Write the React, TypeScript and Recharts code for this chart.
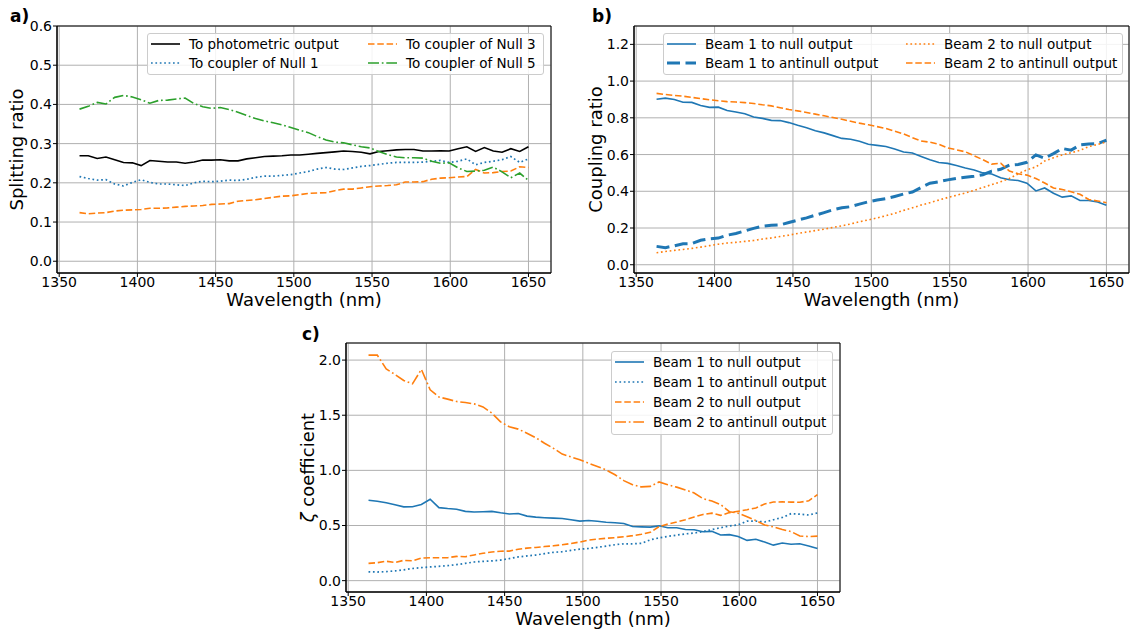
import { CartesianGrid, Legend, Line, LineChart, ReferenceArea, XAxis, YAxis } from "recharts";

// wavelength samples (nm)
const wavelengths = [
  1363.0, 1368.6, 1374.3, 1379.9, 1385.5, 1391.1, 1396.8, 1402.4, 1408.0, 1413.6,
  1419.3, 1424.9, 1430.5, 1436.2, 1441.8, 1447.4, 1453.0, 1458.7, 1464.3, 1469.9,
  1475.5, 1481.2, 1486.8, 1492.4, 1498.1, 1503.7, 1509.3, 1514.9, 1520.6, 1526.2,
  1531.8, 1537.4, 1543.1, 1548.7, 1554.3, 1560.0, 1565.6, 1571.2, 1576.8, 1582.5,
  1588.1, 1593.7, 1599.3, 1605.0, 1610.6, 1616.2, 1621.8, 1627.5, 1633.1, 1638.7,
  1644.4, 1650.0
];

// a) splitting ratio
const toPhotometric = [
  0.269, 0.269, 0.262, 0.266, 0.259, 0.252, 0.251, 0.244, 0.257, 0.255,
  0.253, 0.253, 0.250, 0.253, 0.258, 0.258, 0.259, 0.256, 0.256, 0.261,
  0.264, 0.267, 0.268, 0.269, 0.271, 0.271, 0.273, 0.275, 0.277, 0.279,
  0.281, 0.280, 0.278, 0.274, 0.280, 0.282, 0.284, 0.285, 0.285, 0.281,
  0.281, 0.282, 0.281, 0.287, 0.292, 0.280, 0.290, 0.281, 0.278, 0.287,
  0.280, 0.292
];
const toNull1 = [
  0.216, 0.211, 0.207, 0.208, 0.197, 0.192, 0.201, 0.208, 0.201, 0.197,
  0.197, 0.195, 0.193, 0.200, 0.204, 0.203, 0.204, 0.207, 0.206, 0.209,
  0.214, 0.217, 0.217, 0.219, 0.221, 0.225, 0.229, 0.235, 0.239, 0.235,
  0.234, 0.238, 0.242, 0.244, 0.247, 0.250, 0.252, 0.252, 0.252, 0.253,
  0.255, 0.257, 0.252, 0.255, 0.261, 0.246, 0.252, 0.255, 0.259, 0.267,
  0.252, 0.261
];
const toNull3 = [
  0.124, 0.121, 0.123, 0.124, 0.128, 0.130, 0.131, 0.132, 0.135, 0.135,
  0.136, 0.138, 0.140, 0.141, 0.142, 0.145, 0.146, 0.147, 0.153, 0.155,
  0.157, 0.160, 0.163, 0.166, 0.167, 0.170, 0.173, 0.174, 0.175, 0.180,
  0.184, 0.184, 0.187, 0.190, 0.192, 0.193, 0.195, 0.202, 0.202, 0.203,
  0.209, 0.212, 0.213, 0.215, 0.216, 0.234, 0.225, 0.226, 0.229, 0.230,
  0.241, 0.239
];
const toNull5 = [
  0.388, 0.395, 0.405, 0.401, 0.418, 0.423, 0.419, 0.412, 0.403, 0.410,
  0.411, 0.414, 0.416, 0.402, 0.394, 0.390, 0.392, 0.387, 0.380, 0.372,
  0.364, 0.358, 0.353, 0.348, 0.341, 0.334, 0.328, 0.318, 0.309, 0.304,
  0.302, 0.297, 0.292, 0.289, 0.280, 0.272, 0.266, 0.264, 0.264, 0.263,
  0.255, 0.250, 0.251, 0.238, 0.229, 0.230, 0.232, 0.240, 0.228, 0.213,
  0.225, 0.206
];

// b) coupling ratio
const b1Null = [
  0.901, 0.907, 0.900, 0.885, 0.884, 0.867, 0.857, 0.858, 0.840, 0.832,
  0.822, 0.804, 0.797, 0.786, 0.785, 0.774, 0.759, 0.746, 0.730, 0.718,
  0.703, 0.688, 0.683, 0.672, 0.656, 0.650, 0.644, 0.630, 0.614, 0.608,
  0.590, 0.572, 0.557, 0.552, 0.540, 0.527, 0.516, 0.500, 0.494, 0.474,
  0.463, 0.459, 0.444, 0.402, 0.418, 0.389, 0.368, 0.375, 0.350, 0.350,
  0.342, 0.324
];
const b1Antinull = [
  0.100, 0.093, 0.103, 0.114, 0.115, 0.133, 0.141, 0.145, 0.161, 0.170,
  0.184, 0.198, 0.210, 0.215, 0.217, 0.230, 0.243, 0.255, 0.270, 0.284,
  0.299, 0.310, 0.316, 0.330, 0.343, 0.352, 0.360, 0.372, 0.385, 0.396,
  0.421, 0.444, 0.452, 0.462, 0.470, 0.476, 0.482, 0.490, 0.510, 0.520,
  0.542, 0.546, 0.558, 0.598, 0.580, 0.605, 0.633, 0.624, 0.652, 0.657,
  0.660, 0.678
];
const b2Null = [
  0.065, 0.072, 0.078, 0.083, 0.089, 0.096, 0.104, 0.112, 0.118, 0.122,
  0.127, 0.132, 0.140, 0.146, 0.154, 0.161, 0.170, 0.178, 0.186, 0.194,
  0.203, 0.212, 0.222, 0.234, 0.244, 0.255, 0.267, 0.280, 0.296, 0.310,
  0.325, 0.338, 0.352, 0.366, 0.378, 0.391, 0.405, 0.421, 0.436, 0.452,
  0.470, 0.495, 0.517, 0.533, 0.565, 0.582, 0.598, 0.610, 0.623, 0.643,
  0.655, 0.669
];
const b2Antinull = [
  0.933, 0.927, 0.922, 0.918, 0.911, 0.905, 0.898, 0.893, 0.888, 0.886,
  0.883, 0.878, 0.871, 0.865, 0.855, 0.845, 0.838, 0.829, 0.820, 0.811,
  0.802, 0.792, 0.781, 0.771, 0.762, 0.752, 0.742, 0.727, 0.712, 0.692,
  0.674, 0.667, 0.656, 0.636, 0.626, 0.615, 0.593, 0.572, 0.548, 0.553,
  0.510, 0.495, 0.488, 0.470, 0.445, 0.418, 0.410, 0.397, 0.384, 0.355,
  0.347, 0.338
];

// c) zeta coefficient
const z1Null = [
  0.729, 0.720, 0.706, 0.688, 0.669, 0.670, 0.690, 0.738, 0.662, 0.654,
  0.648, 0.628, 0.623, 0.625, 0.628, 0.615, 0.605, 0.609, 0.585, 0.576,
  0.571, 0.567, 0.563, 0.552, 0.540, 0.545, 0.538, 0.530, 0.525, 0.518,
  0.491, 0.488, 0.485, 0.497, 0.479, 0.479, 0.464, 0.462, 0.443, 0.447,
  0.414, 0.417, 0.400, 0.365, 0.375, 0.350, 0.322, 0.341, 0.330, 0.334,
  0.315, 0.292
];
const z1Antinull = [
  0.080, 0.078, 0.082, 0.088, 0.098, 0.110, 0.118, 0.124, 0.130, 0.136,
  0.145, 0.157, 0.169, 0.175, 0.179, 0.186, 0.200, 0.215, 0.224, 0.232,
  0.245, 0.257, 0.262, 0.275, 0.285, 0.292, 0.302, 0.313, 0.326, 0.334,
  0.334, 0.338, 0.370, 0.388, 0.401, 0.413, 0.424, 0.432, 0.445, 0.463,
  0.480, 0.496, 0.506, 0.540, 0.540, 0.532, 0.552, 0.573, 0.607, 0.603,
  0.595, 0.614
];
const z2Null = [
  0.157, 0.163, 0.176, 0.165, 0.184, 0.180, 0.204, 0.207, 0.208, 0.208,
  0.220, 0.217, 0.233, 0.248, 0.260, 0.267, 0.268, 0.285, 0.295, 0.301,
  0.309, 0.316, 0.325, 0.337, 0.350, 0.368, 0.377, 0.384, 0.390, 0.398,
  0.408, 0.420, 0.438, 0.490, 0.513, 0.532, 0.553, 0.578, 0.600, 0.612,
  0.592, 0.617, 0.629, 0.643, 0.659, 0.695, 0.713, 0.714, 0.712, 0.711,
  0.724, 0.780
];
const z2Antinull = [
  2.045, 2.045, 1.920, 1.870, 1.815, 1.785, 1.916, 1.730, 1.665, 1.646,
  1.624, 1.615, 1.603, 1.575, 1.520, 1.440, 1.395, 1.374, 1.337, 1.296,
  1.246, 1.200, 1.148, 1.122, 1.096, 1.065, 1.035, 1.004, 0.960, 0.907,
  0.870, 0.850, 0.855, 0.895, 0.870, 0.848, 0.823, 0.795, 0.744, 0.722,
  0.690, 0.625, 0.612, 0.580, 0.545, 0.505, 0.487, 0.463, 0.445, 0.405,
  0.400, 0.404
];

const xTicks = [1350, 1400, 1450, 1500, 1550, 1600, 1650];
const ticksA = [0, 0.1, 0.2, 0.3, 0.4, 0.5, 0.6];
const ticksB = [0, 0.2, 0.4, 0.6, 0.8, 1.0, 1.2];
const ticksC = [0, 0.5, 1.0, 1.5, 2.0];

const BLUE = "#1f77b4";
const ORANGE = "#ff7f0e";
const GREEN = "#2ca02c";
const DASHED = "6.5 2.8";
const DOTTED = "1.7 2.7";
const DASHDOT = "11 2.8 1.7 2.8";
const THICK_DASHED = "13 5.5";
const X_DOMAIN: [number, number] = [1348.6, 1664.4];

interface Series {
  key: string;
  label: string;
  color: string;
  dash?: string;
  width: number;
  values: number[];
}

const seriesA: Series[] = [
  { key: "phot", label: "To photometric output", color: "#000000", width: 1.6, values: toPhotometric },
  { key: "n1", label: "To coupler of Null 1", color: BLUE, dash: DOTTED, width: 1.7, values: toNull1 },
  { key: "n3", label: "To coupler of Null 3", color: ORANGE, dash: DASHED, width: 1.6, values: toNull3 },
  { key: "n5", label: "To coupler of Null 5", color: GREEN, dash: DASHDOT, width: 1.6, values: toNull5 }
];
const seriesB: Series[] = [
  { key: "b1n", label: "Beam 1 to null output", color: BLUE, width: 1.6, values: b1Null },
  { key: "b1a", label: "Beam 1 to antinull output", color: BLUE, dash: THICK_DASHED, width: 3, values: b1Antinull },
  { key: "b2n", label: "Beam 2 to null output", color: ORANGE, dash: DOTTED, width: 1.6, values: b2Null },
  { key: "b2a", label: "Beam 2 to antinull output", color: ORANGE, dash: DASHED, width: 1.6, values: b2Antinull }
];
const seriesC: Series[] = [
  { key: "z1n", label: "Beam 1 to null output", color: BLUE, width: 1.6, values: z1Null },
  { key: "z1a", label: "Beam 1 to antinull output", color: BLUE, dash: DOTTED, width: 1.7, values: z1Antinull },
  { key: "z2n", label: "Beam 2 to null output", color: ORANGE, dash: DASHED, width: 1.6, values: z2Null },
  { key: "z2a", label: "Beam 2 to antinull output", color: ORANGE, dash: DASHDOT, width: 1.6, values: z2Antinull }
];

function buildRows(series: Series[]) {
  return wavelengths.map((wl, i) => {
    const row: Record<string, number> = { wl };
    series.forEach((s) => {
      row[s.key] = s.values[i];
    });
    return row;
  });
}

function LegendBox({ columns, colWidths, rowHeight, width }: {
  columns: Series[][];
  colWidths: number[];
  rowHeight: number;
  width: number;
}) {
  return (
    <div
      style={{
        boxSizing: "border-box",
        width,
        display: "flex",
        border: "1px solid #cccccc",
        borderRadius: 3,
        background: "rgba(255,255,255,0.85)",
        padding: "0 3px 2px 3px",
        fontSize: 13.5,
        color: "#000"
      }}
    >
      {columns.map((col, ci) => (
        <div key={ci} style={{ width: colWidths[ci] }}>
          {col.map((s) => (
            <div key={s.key} style={{ display: "flex", alignItems: "center", height: rowHeight }}>
              <svg width={29} height={10} style={{ flex: "none" }}>
                <line x1={0} x2={29} y1={5} y2={5} stroke={s.color} strokeWidth={s.width} strokeDasharray={s.dash} />
              </svg>
              <span style={{ marginLeft: 9, whiteSpace: "nowrap" }}>{s.label}</span>
            </div>
          ))}
        </div>
      ))}
    </div>
  );
}

interface PanelProps {
  series: Series[];
  width: number;
  height: number;
  margin: { top: number; right: number; left: number; bottom: number };
  yAxisWidth: number;
  yDomain: [number, number];
  yTicks: number[];
  yLabel: React.ReactNode;
  yLabelX: number;
  legend: React.ReactNode;
  legendPos: { left: number; top: number };
}

function Panel(p: PanelProps) {
  const rows = buildRows(p.series);
  return (
    <LineChart width={p.width} height={p.height} data={rows} margin={p.margin}>
      <CartesianGrid stroke="#b0b0b0" strokeWidth={1} />
      <XAxis
        dataKey="wl"
        type="number"
        domain={X_DOMAIN}
        allowDataOverflow
        ticks={xTicks}
        interval={0}
        height={37}
        tickSize={4}
        tickMargin={0}
        stroke="#000"
        tick={{ fontSize: 14, fill: "#000" }}
        label={{
          content: ({ viewBox }: any) => (
            <text x={viewBox.x + viewBox.width / 2} y={viewBox.y + 33} textAnchor="middle" fontSize={18} fill="#000">
              Wavelength (nm)
            </text>
          )
        }}
      />
      <YAxis
        type="number"
        domain={p.yDomain}
        allowDataOverflow
        ticks={p.yTicks}
        interval={0}
        width={p.yAxisWidth}
        tickSize={4}
        tickMargin={1}
        stroke="#000"
        tick={{ fontSize: 14, fill: "#000" }}
        tickFormatter={(v: number) => v.toFixed(1)}
        label={{
          content: ({ viewBox }: any) => {
            const cx = viewBox.x + p.yLabelX;
            const cy = viewBox.y + viewBox.height / 2;
            return (
              <text x={cx} y={cy} transform={`rotate(-90 ${cx} ${cy})`} textAnchor="middle" fontSize={18} fill="#000">
                {p.yLabel}
              </text>
            );
          }
        }}
      />
      {p.series.map((s) => (
        <Line
          key={s.key}
          dataKey={s.key}
          name={s.label}
          type="linear"
          stroke={s.color}
          strokeWidth={s.width}
          strokeDasharray={s.dash}
          strokeLinecap="butt"
          dot={false}
          activeDot={false}
          isAnimationActive={false}
        />
      ))}
      <ReferenceArea
        x1={X_DOMAIN[0]}
        x2={X_DOMAIN[1]}
        y1={p.yDomain[0]}
        y2={p.yDomain[1]}
        fill="none"
        fillOpacity={0}
        stroke="#000"
        strokeWidth={1}
        ifOverflow="visible"
      />
      <Legend
        layout="horizontal"
        verticalAlign="middle"
        align="center"
        wrapperStyle={{ left: p.legendPos.left, top: p.legendPos.top, width: "auto", height: "auto" }}
        content={() => p.legend}
      />
    </LineChart>
  );
}

const panelLabel = (text: string, left: number, top: number) => (
  <div style={{ position: "absolute", left, top, fontSize: 17, fontWeight: "bold", lineHeight: "20px" }}>{text}</div>
);

export default function App() {
  return (
    <div
      style={{
        position: "absolute",
        left: 0,
        top: 0,
        width: 1131,
        height: 629,
        background: "#fff",
        fontFamily: "'DejaVu Sans', sans-serif",
        overflow: "hidden"
      }}
    >
      <div style={{ position: "absolute", left: 0, top: 0 }}>
        <Panel
          series={seriesA}
          width={560}
          height={310}
          margin={{ top: 26, right: 9, left: 0, bottom: 0 }}
          yAxisWidth={57}
          yDomain={[-0.03, 0.6]}
          yTicks={ticksA}
          yLabel="Splitting ratio"
          yLabelX={23}
          legendPos={{ left: 147, top: 33 }}
          legend={
            <LegendBox
              columns={[[seriesA[0], seriesA[1]], [seriesA[2], seriesA[3]]]}
              colWidths={[217, 172]}
              rowHeight={19}
              width={397}
            />
          }
        />
      </div>
      <div style={{ position: "absolute", left: 570, top: 0 }}>
        <Panel
          series={seriesB}
          width={561}
          height={310}
          margin={{ top: 26, right: 2, left: 0, bottom: 0 }}
          yAxisWidth={64}
          yDomain={[-0.045, 1.3]}
          yTicks={ticksB}
          yLabel="Coupling ratio"
          yLabelX={32}
          legendPos={{ left: 93, top: 33 }}
          legend={
            <LegendBox
              columns={[[seriesB[0], seriesB[1]], [seriesB[2], seriesB[3]]]}
              colWidths={[239, 212]}
              rowHeight={19}
              width={460}
            />
          }
        />
      </div>
      <div style={{ position: "absolute", left: 290, top: 310 }}>
        <Panel
          series={seriesC}
          width={560}
          height={319}
          margin={{ top: 33, right: 10, left: 0, bottom: 0 }}
          yAxisWidth={56}
          yDomain={[-0.103, 2.155]}
          yTicks={ticksC}
          yLabel={
            <>
              <tspan fontStyle="italic">ζ</tspan> coefficient
            </>
          }
          yLabelX={23.5}
          legendPos={{ left: 321, top: 41 }}
          legend={<LegendBox columns={[seriesC]} colWidths={[214]} rowHeight={20} width={222} />}
        />
      </div>
      {panelLabel("a)", 10, 6)}
      {panelLabel("b)", 592, 6)}
      {panelLabel("c)", 302, 324)}
    </div>
  );
}
